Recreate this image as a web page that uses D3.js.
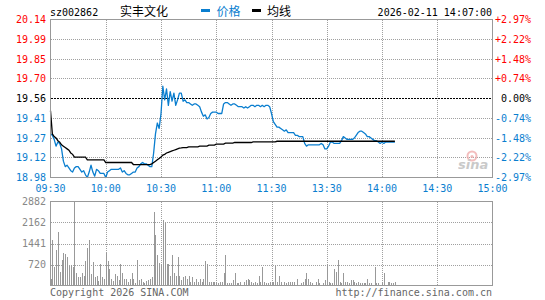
<!DOCTYPE html>
<html>
<head>
<meta charset="utf-8">
<script src="https://cdn.jsdelivr.net/npm/d3@7"></script>
<style>
  body { margin: 0; background: #fff; }
  svg { display: block; }
</style>
</head>
<body>
<div id="chart-container"></div>
<script>
// header
const stockCode = "sz002862";
const stockName = "实丰文化";
const stampText = "2026-02-11 14:07:00";
const legendNames = ["价格", "均线"];

// axis labels
const priceTicks = ["20.14", "19.99", "19.85", "19.70", "19.56", "19.41", "19.27", "19.12", "18.98"];
const pctTicks = ["+2.97%", "+2.22%", "+1.48%", "+0.74%", "0.00%", "-0.74%", "-1.48%", "-2.22%", "-2.97%"];
const timeLabels = ["09:30", "10:00", "10:30", "11:00", "11:30", "13:30", "14:00", "14:30", "15:00"];
const volumeTicks = [2882, 2162, 1441, 720];
const prevClose = 19.56;

// one value per minute, 09:30 .. 14:07
const prices = [
  19.30,19.29,19.26,19.21,19.24,19.23,19.19,19.10,19.06,19.07,
  19.05,19.03,19.02,19.05,19.06,19.06,19.04,19.02,19.03,19.00,
  18.98,19.02,19.07,19.02,18.99,19.04,19.03,19.01,19.01,19.01,
  18.98,19.02,19.03,19.04,19.04,19.04,19.04,19.04,19.05,19.02,
  19.03,19.01,19.00,19.00,19.01,19.02,19.02,19.05,19.06,19.08,
  19.09,19.08,19.08,19.07,19.06,19.06,19.16,19.30,19.38,19.34,
  19.45,19.65,19.55,19.63,19.51,19.61,19.54,19.60,19.51,19.55,
  19.60,19.60,19.54,19.55,19.53,19.53,19.52,19.51,19.52,19.52,
  19.51,19.50,19.46,19.43,19.44,19.41,19.42,19.45,19.46,19.46,
  19.46,19.45,19.45,19.45,19.52,19.53,19.53,19.52,19.51,19.52,
  19.52,19.51,19.50,19.50,19.50,19.49,19.50,19.49,19.50,19.51,
  19.51,19.50,19.51,19.51,19.50,19.51,19.50,19.51,19.51,19.50,
  19.45,19.39,19.37,19.35,19.35,19.34,19.33,19.32,19.33,19.31,
  19.31,19.31,19.31,19.29,19.29,19.28,19.28,19.28,19.23,19.21,
  19.22,19.22,19.22,19.22,19.22,19.22,19.22,19.23,19.22,19.19,
  19.19,19.21,19.24,19.24,19.23,19.23,19.23,19.23,19.25,19.28,
  19.27,19.26,19.26,19.26,19.26,19.27,19.29,19.31,19.32,19.32,
  19.31,19.30,19.28,19.28,19.27,19.26,19.25,19.25,19.24,19.23,
  19.24,19.23,19.24,19.24,19.24,19.24,19.24,19.24
];

const avgPrices = [
  19.47,19.30,19.28,19.27,19.25,19.24,19.22,19.21,19.20,19.19,
  19.18,19.16,19.15,19.13,19.13,19.13,19.13,19.13,19.13,19.13,
  19.11,19.11,19.11,19.11,19.11,19.11,19.11,19.11,19.11,19.11,
  19.09,19.09,19.09,19.09,19.09,19.09,19.09,19.09,19.09,19.09,
  19.09,19.09,19.09,19.09,19.09,19.075,19.075,19.075,19.075,19.075,
  19.075,19.075,19.075,19.075,19.075,19.08,19.09,19.10,19.11,19.12,
  19.13,19.145,19.15,19.16,19.165,19.17,19.175,19.18,19.185,19.19,
  19.195,19.197,19.20,19.20,19.20,19.205,19.205,19.205,19.205,19.205,
  19.205,19.21,19.21,19.21,19.21,19.21,19.218,19.218,19.218,19.218,
  19.225,19.225,19.225,19.225,19.225,19.232,19.232,19.232,19.232,19.232,
  19.237,19.237,19.237,19.237,19.237,19.237,19.237,19.237,19.237,19.237,
  19.242,19.242,19.242,19.242,19.242,19.242,19.242,19.242,19.242,19.242,
  19.242,19.242,19.242,19.246,19.246,19.246,19.246,19.246,19.246,19.246,
  19.246,19.246,19.246,19.246,19.246,19.246,19.246,19.246,19.246,19.246,
  19.246,19.246,19.246,19.246,19.246,19.246,19.246,19.246,19.246,19.246,
  19.246,19.246,19.246,19.246,19.246,19.246,19.246,19.246,19.246,19.246,
  19.246,19.246,19.246,19.246,19.246,19.246,19.246,19.246,19.246,19.246,
  19.246,19.246,19.246,19.246,19.246,19.246,19.246,19.246,19.246,19.246,
  19.246,19.246,19.246,19.246,19.246,19.246,19.246,19.246
];

const volumes = [
  206,1544,629,1201,1819,480,892,1110,1064,961,
  652,709,629,2882,412,275,297,446,309,824,
  1270,1544,378,801,297,309,149,721,297,240,
  1110,824,583,240,149,378,309,172,721,412,
  240,217,137,217,412,240,69,858,172,206,
  103,69,149,183,229,275,2505,1727,1030,789,
  744,2231,2151,721,721,343,1030,446,309,961,
  343,172,275,309,240,332,137,275,103,206,
  103,206,137,240,824,721,137,103,137,137,
  103,69,103,103,412,1030,69,69,69,172,
  412,69,69,137,34,103,172,240,172,103,
  69,103,69,309,103,618,137,69,69,137,
  137,137,652,103,309,137,34,137,69,137,
  103,137,103,34,240,34,69,137,240,446,
  240,103,69,34,103,206,69,34,69,172,
  721,103,69,69,549,480,858,103,69,446,
  137,103,69,172,172,103,69,137,69,69,
  69,69,206,69,69,34,618,69,69,34,
  103,412,34,103,103,69,69,137
];

const width = 545;
const height = 300;
const left = 50.5, right = 492.5;
const pTop = 19.5, pBot = 177.5;
const vTop = 201.5, vBot = 285.5;

const RED = "#ff0000", BLUE = "#0a7ecf", GRID = "#a0a0a0", FRAME = "#999";
const mono = "'DejaVu Sans Mono', monospace";
const cjk = "'Noto Sans CJK SC', sans-serif";

const svg = d3.select("#chart-container").append("svg")
  .attr("width", width)
  .attr("height", height)
  .style("font-family", mono)
  .style("font-size", "10px");

// scales
const x = d3.scaleLinear().domain([0, 240]).range([left, right]);
const y = d3.scaleLinear().domain([+priceTicks[8], +priceTicks[0]]).range([pBot, pTop]);
const yRow = d3.scalePoint().domain(priceTicks).range([pTop, pBot]);
const yPct = d3.scalePoint().domain(pctTicks).range([pTop, pBot]);
const xTime = d3.scalePoint().domain(timeLabels).range([left, right]);
const yv = d3.scaleLinear().domain([0, volumeTicks[0]]).range([vBot, vTop]);

const tickColor = i => i < 4 ? RED : (i === 4 ? "#000" : BLUE);

// price panel grid
const grid = svg.append("g").attr("shape-rendering", "crispEdges");
grid.selectAll(".hp")
  .data(priceTicks.filter((d, i) => i > 0 && i < 8 && i !== 4))
  .join("line")
  .attr("x1", left).attr("x2", right)
  .attr("y1", d => yRow(d)).attr("y2", d => yRow(d))
  .attr("stroke", GRID).attr("stroke-dasharray", "1,1");
grid.selectAll(".vp")
  .data(timeLabels.slice(1, -1))
  .join("line")
  .attr("x1", d => Math.round(xTime(d)) + 0.5).attr("x2", d => Math.round(xTime(d)) + 0.5)
  .attr("y1", pTop).attr("y2", pBot)
  .attr("stroke", GRID).attr("stroke-dasharray", "1,1");
grid.append("line")
  .attr("x1", left).attr("x2", right)
  .attr("y1", yRow(priceTicks[4])).attr("y2", yRow(priceTicks[4]))
  .attr("stroke", "#000").attr("stroke-dasharray", "2,1");

// volume panel grid
grid.selectAll(".hv")
  .data(volumeTicks.slice(1))
  .join("line")
  .attr("x1", left).attr("x2", right)
  .attr("y1", d => Math.round(yv(d)) + 0.5).attr("y2", d => Math.round(yv(d)) + 0.5)
  .attr("stroke", GRID).attr("stroke-dasharray", "1,1");
grid.selectAll(".vv")
  .data(timeLabels.slice(1, -1))
  .join("line")
  .attr("x1", d => Math.round(xTime(d)) + 0.5).attr("x2", d => Math.round(xTime(d)) + 0.5)
  .attr("y1", vTop).attr("y2", vBot)
  .attr("stroke", GRID).attr("stroke-dasharray", "1,1");

// sina watermark
const logo = svg.append("g").attr("opacity", 0.75);
logo.append("circle").attr("cx", 472).attr("cy", 156).attr("r", 4.5)
  .attr("fill", "none").attr("stroke", "#f0a8a8").attr("stroke-width", 2);
logo.append("circle").attr("cx", 472).attr("cy", 156.5).attr("r", 1.6).attr("fill", "#f0a8a8");
logo.append("text").attr("x", 458).attr("y", 169)
  .style("font-family", "'DejaVu Sans', sans-serif")
  .style("font-size", "13px").style("font-weight", "bold").style("font-style", "italic")
  .attr("fill", "#b8b8b8").text("sina");

// volume bars
svg.append("g").attr("shape-rendering", "crispEdges")
  .selectAll("rect")
  .data(volumes)
  .join("rect")
  .attr("x", (d, i) => Math.round(x(i)))
  .attr("width", 1)
  .attr("y", d => yv(d))
  .attr("height", d => vBot - yv(d))
  .attr("fill", "#999");

// price & average lines
const line = d3.line().x((d, i) => x(i)).y(d => y(d));
svg.append("path").datum(prices)
  .attr("d", line).attr("fill", "none")
  .attr("stroke", BLUE).attr("stroke-width", 1.3).attr("stroke-linejoin", "round");
svg.append("path").datum(avgPrices)
  .attr("d", line).attr("fill", "none")
  .attr("stroke", "#000").attr("stroke-width", 1.3);

// frames
svg.append("rect").attr("x", left).attr("y", pTop)
  .attr("width", right - left).attr("height", pBot - pTop)
  .attr("fill", "none").attr("stroke", FRAME).attr("shape-rendering", "crispEdges");
svg.append("rect").attr("x", left).attr("y", vTop)
  .attr("width", right - left).attr("height", vBot - vTop)
  .attr("fill", "none").attr("stroke", FRAME).attr("shape-rendering", "crispEdges");

// left price labels
svg.append("g").selectAll("text")
  .data(priceTicks)
  .join("text")
  .attr("x", 46).attr("y", d => yRow(d) + 3.6)
  .attr("text-anchor", "end")
  .attr("fill", (d, i) => tickColor(i))
  .text(d => d);

// right percent labels
svg.append("g").selectAll("text")
  .data(pctTicks)
  .join("text")
  .attr("x", 531).attr("y", d => yPct(d) + 3.6)
  .attr("text-anchor", "end")
  .attr("fill", (d, i) => tickColor(i))
  .text(d => d);

// time labels
svg.append("g").selectAll("text")
  .data(timeLabels)
  .join("text")
  .attr("x", d => xTime(d)).attr("y", 191.5)
  .attr("text-anchor", "middle")
  .attr("fill", BLUE)
  .text(d => d);

// volume labels
svg.append("g").selectAll("text")
  .data(volumeTicks)
  .join("text")
  .attr("x", 46).attr("y", d => yv(d) + 3.6)
  .attr("text-anchor", "end")
  .attr("fill", "#888")
  .text(d => d);

// header
svg.append("text").attr("x", 50).attr("y", 15.5).attr("fill", "#000").text(stockCode);
svg.append("text").attr("x", 120).attr("y", 16).style("font-family", cjk).style("font-size", "12px")
  .attr("fill", "#000").text(stockName);
svg.append("rect").attr("x", 201).attr("y", 9).attr("width", 9).attr("height", 3).attr("fill", BLUE);
svg.append("text").attr("x", 216.5).attr("y", 16).style("font-family", cjk).style("font-size", "12px")
  .attr("fill", BLUE).text(legendNames[0]);
svg.append("rect").attr("x", 252).attr("y", 9).attr("width", 9).attr("height", 3).attr("fill", "#000");
svg.append("text").attr("x", 267).attr("y", 16).style("font-family", cjk).style("font-size", "12px")
  .attr("fill", "#000").text(legendNames[1]);
svg.append("text").attr("x", 492).attr("y", 15.5).attr("text-anchor", "end")
  .attr("fill", "#000").text(stampText);

// footer
svg.append("text").attr("x", 50).attr("y", 296).attr("fill", "#666").text("Copyright 2026 SINA.COM");
svg.append("text").attr("x", 492).attr("y", 296).attr("text-anchor", "end")
  .attr("fill", "#666").text("http://finance.sina.com.cn");
</script>
</body>
</html>
